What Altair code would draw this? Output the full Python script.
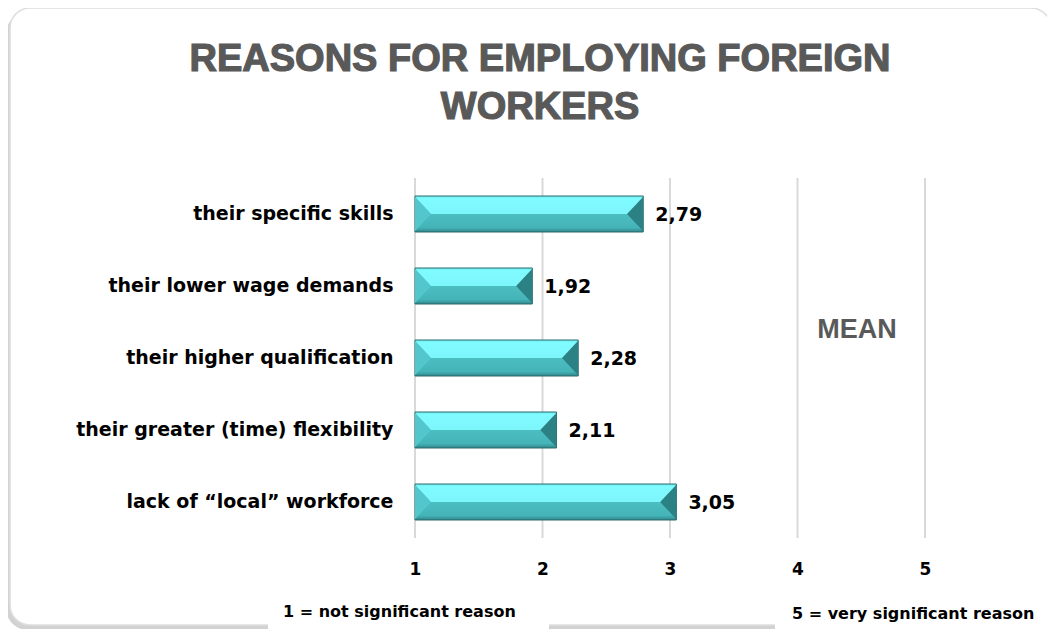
import altair as alt
import pandas as pd

# ---------------- data ----------------
categories = [
    "their specific skills",
    "their lower wage demands",
    "their higher qualification",
    "their greater (time) flexibility",
    "lack of \u201clocal\u201d workforce",
]
means = [2.79, 1.92, 2.28, 2.11, 3.05]
mean_labels = ["2,79", "1,92", "2,28", "2,11", "3,05"]
tick_values = [1, 2, 3, 4, 5]

title_line1 = "REASONS FOR EMPLOYING FOREIGN"
title_line2 = "WORKERS"
mean_text = "MEAN"
note_low = "1 = not significant reason"
note_high = "5 = very significant reason"

df = pd.DataFrame({"reason": categories, "mean": means, "label": mean_labels,
                   "base": [1] * len(means)})
ticks_df = pd.DataFrame({"t": tick_values})
one = pd.DataFrame({"a": [0]})

# plot area origin in page coordinates
OX, OY = 415, 178
W, H = 510, 360


def px(v):
    return v - OX


def py(v):
    return v - OY


FONT = "DejaVu Sans"
GRAY = "#595959"

xscale = alt.Scale(domain=[1, 5], zero=False, nice=False)
yscale = alt.Scale(paddingInner=0.5, paddingOuter=0.25)

xenc = alt.X("mean:Q", scale=xscale,
             axis=alt.Axis(values=tick_values, grid=False, domain=False, ticks=False,
                           title=None, labelFont=FONT, labelFontWeight="bold",
                           labelFontSize=17, labelColor="black", labelPadding=23,
                           labelFlush=False, format="d", zindex=1))
yenc = alt.Y("reason:N", sort=categories, scale=yscale,
             axis=alt.Axis(title=None, domain=False, ticks=False, labelFont=FONT,
                           labelFontWeight="bold", labelFontSize=19, labelColor="black",
                           labelPadding=22, labelLimit=500, zindex=1))

# ---------------- frame ----------------
shadow = alt.Chart(one).mark_rect(cornerRadius=22, color="#d2d2d2").encode(
    x=alt.value(px(6)), x2=alt.value(px(1047)), y=alt.value(py(12)), y2=alt.value(py(630)))
frame = alt.Chart(one).mark_rect(cornerRadius=20, color="white", stroke="#dedede",
                                 strokeWidth=1.5).encode(
    x=alt.value(px(10)), x2=alt.value(px(1051)), y=alt.value(py(8)), y2=alt.value(py(625)))
box1 = alt.Chart(one).mark_rect(color="white").encode(
    x=alt.value(px(268)), x2=alt.value(px(549)), y=alt.value(py(596)), y2=alt.value(py(634)))
box2 = alt.Chart(one).mark_rect(color="white").encode(
    x=alt.value(px(775)), x2=alt.value(px(1055)), y=alt.value(py(596)), y2=alt.value(py(634)))

# ---------------- grid ----------------
grid = alt.Chart(ticks_df).mark_rule(color="#d9d9d9", strokeWidth=2).encode(
    x=alt.X("t:Q", scale=xscale), y=alt.value(0), y2=alt.value(H))

# ---------------- bars ----------------
grad = alt.Gradient(
    gradient="linear", x1=0, x2=0, y1=0, y2=1,
    stops=[
        alt.GradientStop(color="#70eef2", offset=0.0),
        alt.GradientStop(color="#80fbff", offset=0.08),
        alt.GradientStop(color="#7cf6fa", offset=0.5),
        alt.GradientStop(color="#4bbec2", offset=0.5),
        alt.GradientStop(color="#45b4b8", offset=0.88),
        alt.GradientStop(color="#2f8588", offset=1.0),
    ])
bars = alt.Chart(df).mark_bar(color=grad, stroke="#2b6b6e", strokeWidth=1).encode(
    x=xenc, x2="base:Q", y=yenc)

left_facet = alt.Chart(df).mark_point(
    shape="M 0 -0.96 L 0.9 0 L 0 0.96 Z", filled=True, size=1296, opacity=1,
    color="#52c6ca", strokeWidth=0).encode(
    x=alt.X("base:Q", scale=xscale), y=alt.Y("reason:N", sort=categories, scale=yscale))
right_facet = alt.Chart(df).mark_point(
    shape="M 0 -0.96 L -0.9 0 L 0 0.96 Z", filled=True, size=1296, opacity=1,
    color="#2c8185", strokeWidth=0).encode(
    x=alt.X("mean:Q", scale=xscale), y=alt.Y("reason:N", sort=categories, scale=yscale))

values = alt.Chart(df).mark_text(align="left", baseline="middle", dx=12, dy=1, font=FONT,
                                 fontWeight="bold", fontSize=19, color="black").encode(
    x=alt.X("mean:Q", scale=xscale), y=alt.Y("reason:N", sort=categories, scale=yscale),
    text="label:N")

# ---------------- texts ----------------
def txt(s, x, y, size, font="Liberation Sans", color=GRAY, align="center", sw=0.0):
    kw = dict(text=s, font=font, fontWeight="bold", fontSize=size, color=color,
              align=align, baseline="alphabetic")
    if sw > 0:
        kw.update(stroke=color, strokeWidth=sw)
    return alt.Chart(one).mark_text(**kw).encode(x=alt.value(x), y=alt.value(y))


t1 = txt(title_line1, px(540), py(71), 38, sw=1.2)
t2 = txt(title_line2, px(540), py(119), 38, sw=1.2)
tm = txt(mean_text, px(857), py(338), 27)
n1 = txt(note_low, px(283), py(617), 16, font=FONT, color="black", align="left")
n2 = txt(note_high, px(792), py(619), 16, font=FONT, color="black", align="left")

chart = alt.layer(
    shadow, frame, box1, box2, grid, bars, left_facet, right_facet, values,
    t1, t2, tm, n1, n2,
).properties(
    width=W, height=H,
    autosize=alt.AutoSizeParams(type="none"),
    padding={"left": OX - 8, "top": OY - 8, "right": 1039 - (OX - 8) - W,
             "bottom": 621 - (OY - 8) - H},
    background="white",
).configure_view(stroke=None)

chart.save("out.html", embed_options={"renderer": "svg", "actions": False})
